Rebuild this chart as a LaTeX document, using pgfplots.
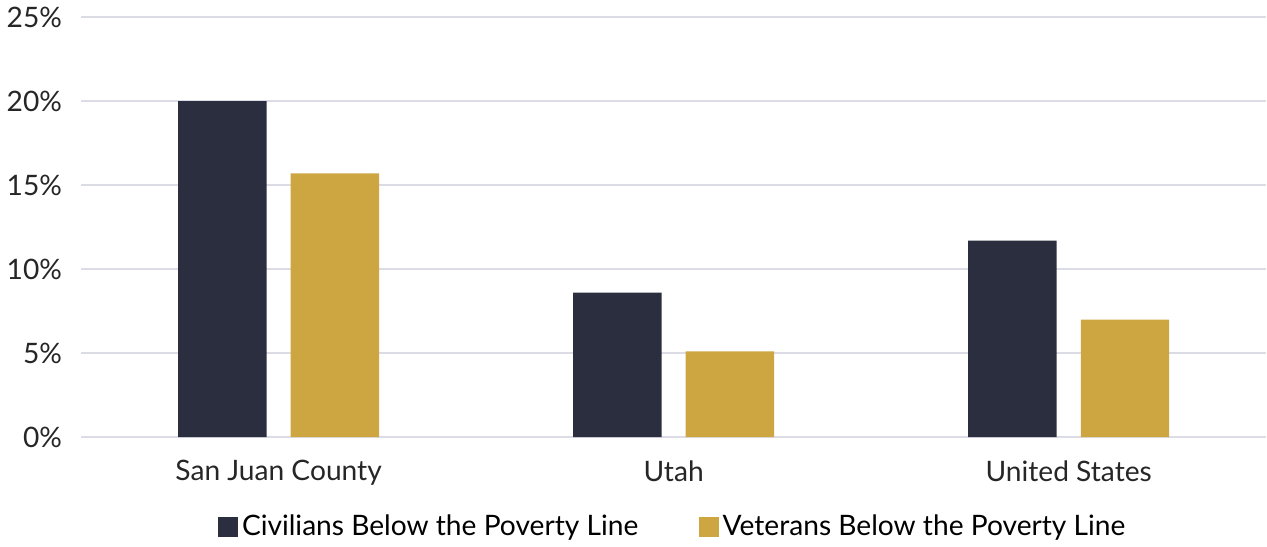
\documentclass[border=0pt]{standalone}
\usepackage{pgfplots}
\pgfplotsset{compat=1.18}
\usepackage{fontspec}
\setmainfont{Lato}
\definecolor{civ}{HTML}{2B2E3F}
\definecolor{vet}{HTML}{CDA641}
\definecolor{gridc}{HTML}{DCDCE6}
\begin{document}
\begin{tikzpicture}
\begin{axis}[
    scale only axis,
    width=589.5pt, height=209pt,
    ybar=12pt,
    bar width=44pt,
    xmin=-0.5, xmax=2.5,
    ymin=0, ymax=25,
    xtick={0,1,2},
    xticklabels={San Juan County,Utah,United States},
    ytick={0,5,10,15,20,25},
    yticklabel={\pgfmathprintnumber{\tick}\%},
    /pgf/number format/assume math mode=true,
    ymajorgrids=true,
    grid style={gridc, line width=0.8pt},
    axis line style={draw=none},
    major tick length=0pt,
    tick label style={font=\fontsize{14}{16}\selectfont, text=black!85},
    yticklabel style={xshift=-6pt},
    xticklabel style={yshift=-8pt},
    legend style={at={(0.5,-0.165)}, anchor=north, draw=none,
        legend columns=2, font=\fontsize{14}{16}\selectfont,
        /tikz/every even column/.append style={column sep=28pt}},
    legend image code/.code={\fill[#1] (0pt,-5pt) rectangle (10pt,5pt);},
]
\addplot[fill=civ, draw=none] coordinates {(0,20.0) (1,8.6) (2,11.7)};
\addplot[fill=vet, draw=none] coordinates {(0,15.7) (1,5.1) (2,7.0)};
\legend{Civilians Below the Poverty Line, Veterans Below the Poverty Line}
\end{axis}
\end{tikzpicture}
\end{document}
